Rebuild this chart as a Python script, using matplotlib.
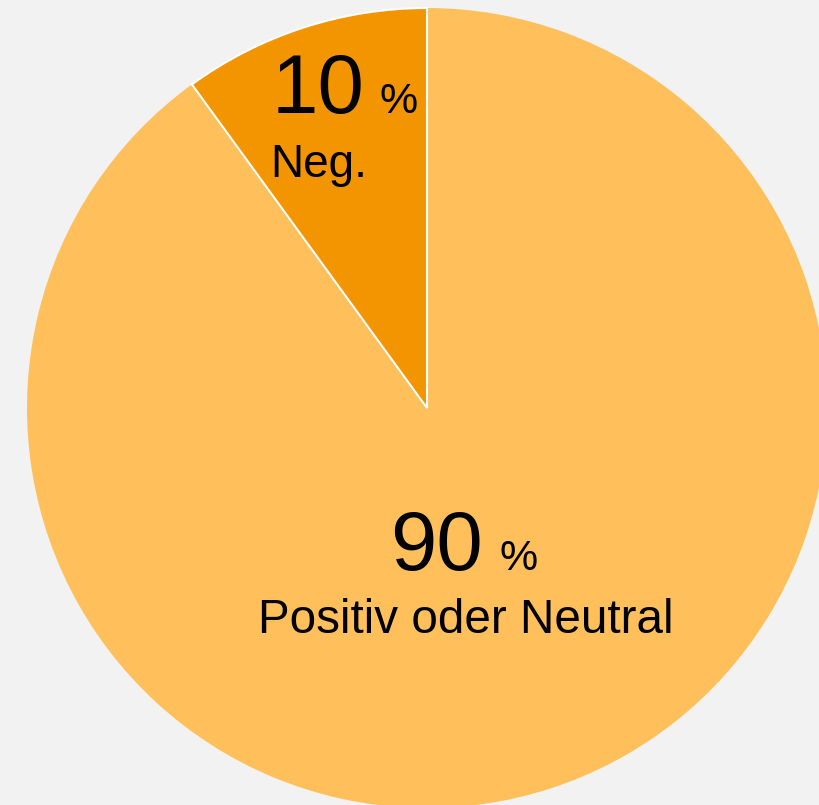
import matplotlib.pyplot as plt

# Data
labels = ["Neg.", "Positiv oder Neutral"]
values = [10, 90]
colors = ["#F29500", "#FFC05C"]

plt.rcParams['font.family'] = ['Liberation Sans', 'DejaVu Sans']

fig = plt.figure(figsize=(8.2, 8.05), dpi=100, facecolor="#F2F2F2")
ax = fig.add_axes([0, 0, 1, 1])
ax.set_facecolor("#F2F2F2")

# pie in pixel-like coordinates (y measured from bottom)
wedges, _ = ax.pie(values, colors=colors, startangle=90, counterclock=True,
                   center=(427, 397), radius=400,
                   wedgeprops=dict(edgecolor="white", linewidth=1.5))
# only the small slice carries a white outline
wedges[1].set_edgecolor("none")
wedges[0].set_zorder(wedges[1].get_zorder() + 1)

ax.set_xlim(0, 820)
ax.set_ylim(0, 805)
ax.set_aspect("equal")
ax.axis("off")

# Labels: big number, small percent sign, category name
ax.text(272, 805 - 113, f"{values[0]}", fontsize=60, ha="left", va="baseline")
ax.text(380, 805 - 113, "%", fontsize=31, ha="left", va="baseline")
ax.text(270, 805 - 177, labels[0], fontsize=33, ha="left", va="baseline")

ax.text(390, 805 - 570, f"{values[1]}", fontsize=60, ha="left", va="baseline")
ax.text(500, 805 - 570, "%", fontsize=31, ha="left", va="baseline")
ax.text(466, 805 - 633, labels[1], fontsize=34.3, ha="center", va="baseline")

plt.savefig("out.png", dpi=100, facecolor="#F2F2F2")
